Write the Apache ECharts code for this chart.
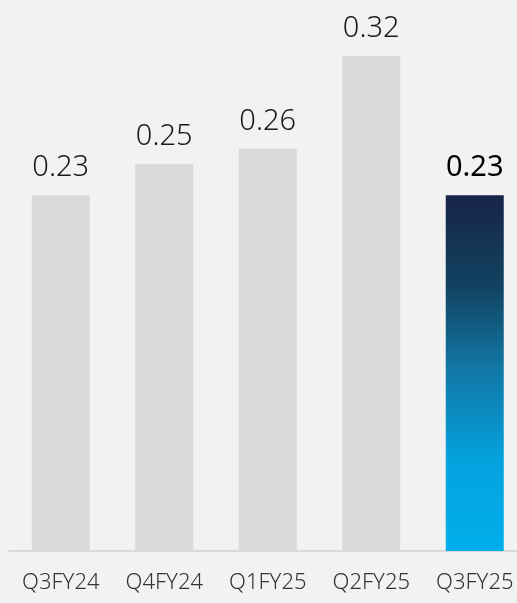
<!DOCTYPE html>
<html>
<head>
<meta charset="utf-8">
<script src="https://cdn.jsdelivr.net/npm/echarts@6/dist/echarts.min.js"></script>
<style>
html,body{margin:0;padding:0;background:#f2f2f2;overflow:hidden;width:517px;height:603px;}
#c{width:527px;height:603px;}
</style>
</head>
<body>
<div id="c"></div>
<script>
const categories = ['Q3FY24', 'Q4FY24', 'Q1FY25', 'Q2FY25', 'Q3FY25'];
const values = [0.23, 0.25, 0.26, 0.32, 0.23];

const chart = echarts.init(document.getElementById('c'), null, {renderer: 'canvas'});
const grey = '#d9d9d9';
const gradient = new echarts.graphic.LinearGradient(0, 0, 0, 1, [
  {offset: 0, color: '#172448'},
  {offset: 0.25, color: '#124260'},
  {offset: 0.5, color: '#107aa8'},
  {offset: 0.75, color: '#05a3df'},
  {offset: 1, color: '#00aeeb'}
]);
const lastIdx = values.length - 1;
chart.setOption({
  backgroundColor: '#f2f2f2',
  animation: false,
  grid: {left: 9, top: 9.5, right: 0.5, bottom: 52, containLabel: false},
  xAxis: {
    type: 'category',
    data: categories,
    axisLine: {show: true, lineStyle: {color: '#d9d9d9', width: 2}},
    axisTick: {show: false},
    axisLabel: {
      color: '#333333', fontSize: 22, margin: 21,
      fontFamily: '"Noto Sans", "Open Sans", sans-serif', fontWeight: 300
    }
  },
  yAxis: {
    type: 'value', min: 0, max: 0.35,
    show: false, splitLine: {show: false}
  },
  series: [{
    type: 'bar',
    barWidth: 58,
    data: values.map((v, i) => ({
      value: v,
      itemStyle: {color: i === lastIdx ? gradient : grey},
      label: i === lastIdx ? {fontWeight: 'normal', color: '#000000'} : {}
    })),
    label: {
      show: true, position: 'top', distance: 13,
      color: '#1a1a1a', fontSize: 29,
      fontFamily: '"Noto Sans", "Open Sans", sans-serif', fontWeight: 300,
      formatter: p => p.value.toFixed(2)
    }
  }]
});
</script>
</body>
</html>
